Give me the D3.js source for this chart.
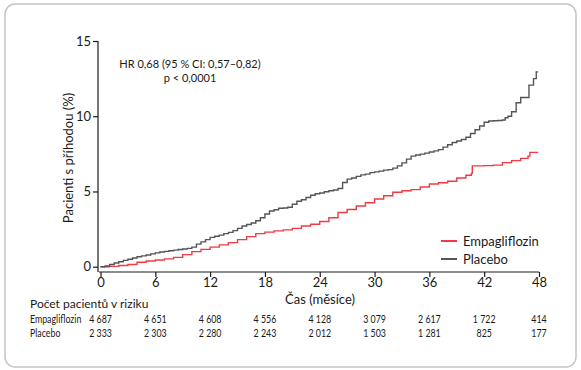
<!DOCTYPE html>
<html>
<head>
<meta charset="utf-8">
<script src="https://cdn.jsdelivr.net/npm/d3@7"></script>
<style>
  body { margin: 0; background: #fff; }
  svg text { font-family: Lato, "Noto Sans", sans-serif; fill: #1a1a1a; }
</style>
</head>
<body>
<svg id="chart" width="581" height="370"></svg>
<script>
// months / cumulative %
var placeboPts = [
  [0, 0], [0.5, 0.05], [1, 0.15], [1.5, 0.25], [2, 0.33], [2.5, 0.42], [3, 0.5], [3.5, 0.58],
  [4, 0.66], [4.5, 0.72], [5, 0.78], [5.5, 0.85], [6, 0.92], [6.5, 0.98], [7, 1.02], [7.5, 1.06],
  [8, 1.1], [8.5, 1.14], [9, 1.18], [9.5, 1.22], [10, 1.3], [10.5, 1.5], [11, 1.65], [11.5, 1.8],
  [12, 1.95], [12.5, 2.02], [13, 2.1], [13.5, 2.2], [14, 2.28], [14.5, 2.4], [15, 2.55], [15.5, 2.7],
  [16, 2.8], [16.5, 2.9], [17, 3.05], [17.5, 3.25], [18, 3.5], [18.5, 3.7], [19, 3.78], [19.5, 3.88],
  [20, 3.9], [20.5, 3.95], [21, 4.15], [21.5, 4.35], [22, 4.45], [22.5, 4.6], [23, 4.75], [23.5, 4.85],
  [24, 4.9], [24.5, 4.98], [25, 5.05], [25.5, 5.1], [26, 5.2], [26.5, 5.6], [27, 5.82], [27.5, 5.9],
  [28, 6.0], [28.5, 6.1], [29, 6.15], [29.5, 6.25], [30, 6.3], [30.5, 6.35], [31, 6.42], [31.5, 6.45],
  [32, 6.55], [32.5, 6.7], [33, 6.9], [33.5, 7.15], [34, 7.35], [34.5, 7.42], [35, 7.48], [35.5, 7.55],
  [36, 7.62], [36.5, 7.7], [37, 7.78], [37.5, 7.95], [38, 8.1], [38.5, 8.25], [39, 8.35], [39.5, 8.45],
  [40, 8.6], [40.5, 8.85], [41, 9.1], [41.5, 9.35], [42, 9.6], [42.5, 9.68], [43, 9.7], [43.5, 9.72],
  [44, 9.75], [44.3, 9.9], [44.6, 10.0], [45, 10.3], [45.5, 10.9], [46, 11.25], [46.9, 12.07],
  [47.4, 12.5], [47.7, 12.95], [47.9, 12.95]
]
var empaPts = [
  [0, 0], [1, 0.02], [2, 0.08], [3, 0.15], [4, 0.3], [5, 0.38], [6, 0.45], [7, 0.52], [8, 0.62],
  [9, 0.8], [10, 1.0], [11, 1.15], [12, 1.3], [13, 1.45], [14, 1.6], [15, 1.8], [16, 2.0], [17, 2.2],
  [18, 2.3], [19, 2.38], [20, 2.45], [21, 2.55], [22, 2.7], [23, 2.82], [24, 3.0], [25, 3.25],
  [26, 3.6], [27, 3.8], [28, 4.03], [29, 4.25], [30, 4.5], [31, 4.72], [32, 4.95], [33, 5.05],
  [34, 5.12], [35, 5.3], [36, 5.5], [37, 5.58], [38, 5.68], [39, 5.9], [40, 6.08], [40.6, 6.2],
  [40.7, 6.7], [42, 6.72], [43, 6.75], [44, 6.92], [45, 7.05], [46, 7.2], [46.8, 7.35], [47, 7.6],
  [47.9, 7.6]
]

var xTicks = [0, 6, 12, 18, 24, 30, 36, 42, 48]
var yTicks = [0, 5, 10, 15]
var riskGroups = ['Empagliflozin', 'Placebo']
var riskEmpa = ['4 687', '4 651', '4 608', '4 556', '4 128', '3 079', '2 617', '1 722', '414']
var riskPlacebo = ['2 333', '2 303', '2 280', '2 243', '2 012', '1 503', '1 281', '825', '177']

var RED = '#ee3b45'
var GREY = '#555555'
var SQUEEZE = 0.8 // the table uses a condensed face

var svg = d3.select('#chart')

// rounded frame
svg.append('rect')
  .attr('x', 5).attr('y', 4).attr('width', 571).attr('height', 363)
  .attr('rx', 10).attr('ry', 10)
  .attr('fill', '#fff').attr('stroke', '#c4c4c4').attr('stroke-width', 1.5)

var x = d3.scaleLinear().domain([0, 48]).range([100.5, 539])
var y = d3.scaleLinear().domain([0, 15]).range([266.7, 41])

// y axis
var yAxis = svg.append('g')
  .attr('transform', 'translate(98,0)')
  .call(d3.axisLeft(y).tickValues(yTicks).tickSize(5).tickPadding(2))
yAxis.select('.domain').attr('d', 'M0,' + y(15) + 'V272')

// x axis
var xAxis = svg.append('g')
  .attr('transform', 'translate(0,272)')
  .call(d3.axisBottom(x).tickValues(xTicks).tickSize(5).tickPadding(1))
xAxis.select('.domain').attr('d', 'M' + (x(0) - 1.5) + ',0H' + x(48))

svg.selectAll('.tick text').attr('font-size', 13).attr('fill', '#1a1a1a')
  .style('font-family', 'Lato, sans-serif')
svg.selectAll('.domain, .tick line').attr('stroke', '#1a1a1a').attr('stroke-width', 1.2)

svg.append('text')
  .attr('transform', 'translate(73,158) rotate(-90)')
  .attr('text-anchor', 'middle')
  .attr('font-size', 13)
  .text('Pacienti s příhodou (%)')

svg.append('text')
  .attr('x', 320).attr('y', 304)
  .attr('text-anchor', 'middle')
  .attr('font-size', 13)
  .text('Čas (měsíce)')

// curves
var line = d3.line()
  .x((d) => x(d[0]))
  .y((d) => y(d[1]))
  .curve(d3.curveStepAfter)

svg.append('path').datum(empaPts)
  .attr('d', line).attr('fill', 'none')
  .attr('stroke', RED).attr('stroke-width', 1.4)

svg.append('path').datum(placeboPts)
  .attr('d', line).attr('fill', 'none')
  .attr('stroke', GREY).attr('stroke-width', 1.4)

// annotation
svg.append('text')
  .attr('x', 190).attr('y', 68)
  .attr('text-anchor', 'middle').attr('font-size', 11)
  .text('HR 0,68 (95 % CI: 0,57–0,82)')
svg.append('text')
  .attr('x', 190).attr('y', 82)
  .attr('text-anchor', 'middle').attr('font-size', 11)
  .text('p < 0,0001')

// legend
var legend = svg.append('g').attr('transform', 'translate(441,0)')
var legendY = [241, 259]
riskGroups.forEach((name, i) => {
  legend.append('line')
    .attr('x1', 0).attr('x2', 16)
    .attr('y1', legendY[i]).attr('y2', legendY[i])
    .attr('stroke', i === 0 ? RED : GREY).attr('stroke-width', 2)
  legend.append('text')
    .attr('x', 22).attr('y', legendY[i] + 4.5)
    .attr('font-size', 13)
    .text(name)
})

// numbers at risk
svg.append('text')
  .attr('x', 30).attr('y', 308)
  .attr('font-size', 12)
  .text('Počet pacientů v riziku')

var rows = [riskEmpa, riskPlacebo]
rows.forEach((vals, r) => {
  var ry = 323 + r * 14
  svg.append('text')
    .attr('transform', 'translate(30,' + ry + ') scale(' + SQUEEZE + ',1)')
    .attr('font-size', 11)
    .text(riskGroups[r])
  svg.selectAll(null)
    .data(vals)
    .enter()
    .append('text')
    .attr('transform', (d, i) => 'translate(' + x(xTicks[i]) + ',' + ry + ') scale(' + SQUEEZE + ',1)')
    .attr('text-anchor', 'middle')
    .attr('font-size', 11)
    .text((d) => d)
})
</script>
</body>
</html>
